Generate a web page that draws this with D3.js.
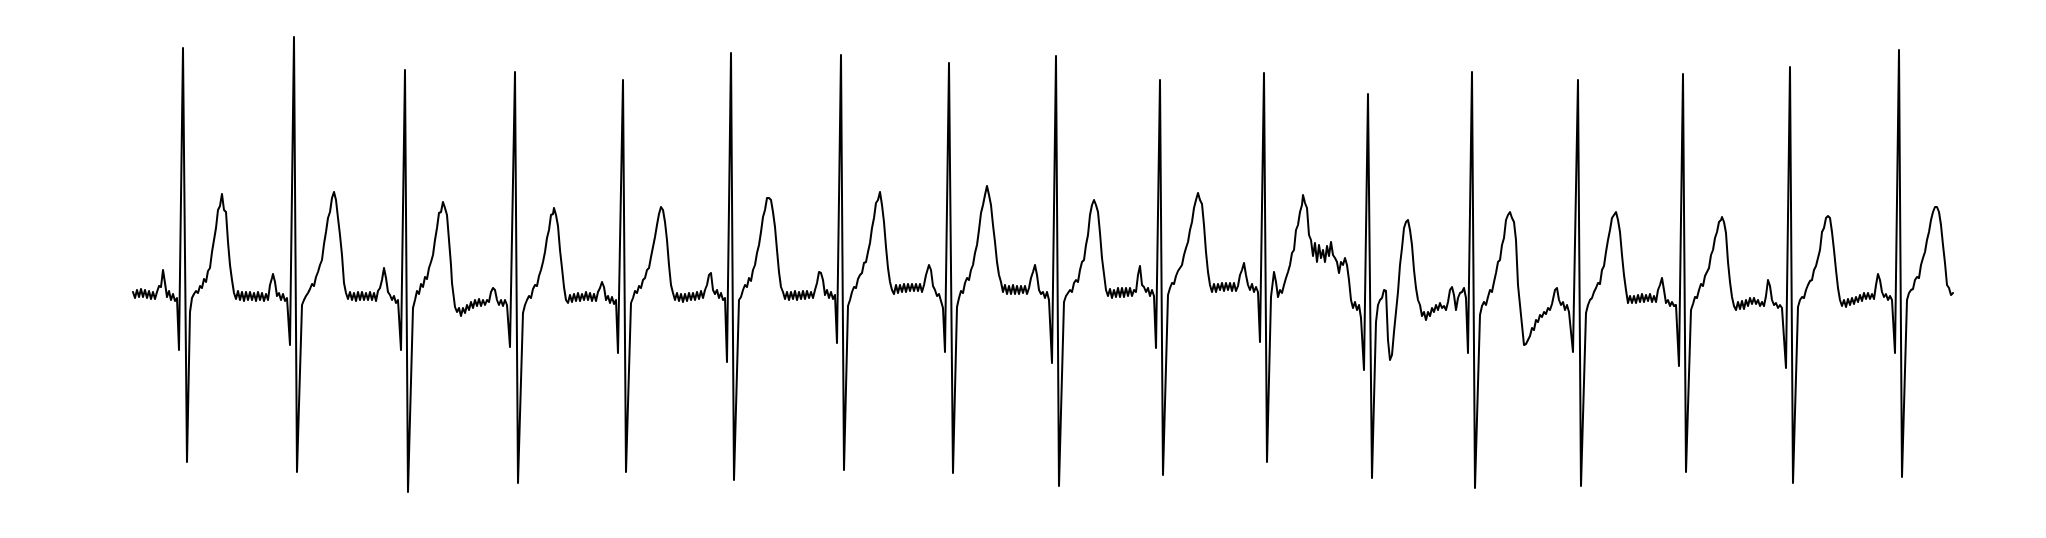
<!DOCTYPE html>
<html>
<head>
<meta charset="utf-8">
<script src="https://cdn.jsdelivr.net/npm/d3@7"></script>
<style>
  html, body { margin: 0; padding: 0; background: #ffffff; }
  svg { display: block; }
</style>
</head>
<body>
<div id="chart"></div>
<script>
// ECG trace: [sample index, amplitude (units of 10 µV)], one array per cardiac cycle
const beat01 = [[0,2],[2,-4],[4,4],[6,-3],[8,5],[10,-3],[12,4],[14,-4],[16,3],[18,-5],[20,2],[22,-5],[24,2],[26,8],[28,7],[30,24],[32,11],[34,-3],[36,3],[38,-6],[40,0],[42,-7],[44,-4],[46,-56],[50,246],[54,-168],[57,-18],[59,-4],[61,0],[63,3],[65,1],[67,8],[69,6],[71,15],[73,12],[75,23],[77,26],[79,42],[81,54],[83,66],[85,84],[87,88],[89,100],[91,84],[93,82],[95,52],[97,29],[99,14],[101,1]];
const beat02 = [[103,-5],[105,3],[107,-6],[109,2],[111,-7],[113,2],[115,-6],[117,2],[119,-6],[121,1],[123,-7],[125,2],[127,-6],[129,1],[131,-7],[133,0],[135,-6],[137,9],[139,16],[140,20],[142,12],[144,-2],[146,1],[148,-6],[150,0],[152,-7],[154,-4],[157,-51],[161,257],[164,-178],[169,-11],[171,-6],[173,-2],[175,1],[177,5],[179,10],[181,8],[183,17],[185,22],[187,29],[189,34],[191,50],[193,62],[195,76],[197,82],[199,96],[201,102],[203,94],[205,76],[207,59],[209,39],[211,11],[213,1]];
const beat03 = [[215,-5],[217,2],[219,-6],[221,1],[223,-7],[225,2],[227,-6],[229,2],[231,-6],[233,1],[235,-6],[237,2],[239,-6],[241,1],[243,-7],[245,3],[247,6],[249,14],[251,26],[253,16],[255,2],[257,-1],[259,-6],[261,-2],[263,-9],[265,-6],[268,-56],[272,224],[275,-198],[280,-14],[282,-6],[284,3],[286,0],[288,10],[290,7],[292,17],[294,15],[296,26],[298,32],[300,39],[302,54],[304,66],[306,81],[308,82],[310,92],[312,86],[314,79],[316,54],[318,29],[319,11]];
const beat04 = [[322,-13],[324,-18],[326,-14],[328,-22],[330,-14],[332,-19],[334,-11],[336,-16],[338,-8],[340,-14],[342,-6],[344,-12],[346,-5],[348,-12],[350,-6],[352,-11],[354,-6],[356,-8],[358,2],[360,6],[362,4],[364,-6],[366,-11],[368,-6],[370,-12],[372,-6],[374,-11],[377,-53],[382,222],[385,-189],[390,-19],[392,-11],[394,-6],[396,-2],[398,-4],[400,5],[402,9],[404,8],[406,18],[408,24],[410,32],[412,42],[414,56],[416,64],[418,79],[420,80],[421,86],[423,79],[425,68],[427,44],[429,26],[431,7],[433,-6],[435,-9]];
const beat05 = [[437,-1],[439,-8],[441,0],[443,-7],[445,1],[447,-7],[449,0],[451,-6],[453,2],[455,-6],[457,1],[459,-7],[461,0],[463,-7],[465,2],[467,6],[469,12],[471,7],[473,-6],[475,-2],[477,-9],[479,-3],[481,-10],[483,-6],[485,-59],[490,214],[493,-178],[498,-9],[500,-4],[502,3],[504,1],[506,8],[508,6],[510,14],[512,16],[514,24],[516,26],[518,37],[520,47],[522,57],[524,69],[526,80],[528,87],[530,84],[532,72],[534,54],[536,29],[538,9],[540,1]];
const beat06 = [[542,-6],[544,1],[546,-7],[548,0],[550,-8],[552,0],[554,-7],[556,1],[558,-6],[560,1],[562,-6],[564,2],[566,-5],[568,3],[570,-4],[572,4],[574,9],[576,19],[578,21],[580,4],[582,0],[584,4],[586,-4],[588,1],[590,-6],[592,-4],[594,-68],[598,241],[601,-186],[606,-6],[608,-3],[610,4],[612,9],[614,7],[616,16],[618,13],[620,24],[622,29],[624,41],[626,49],[628,62],[630,77],[632,84],[634,96],[636,96],[638,94],[640,82],[642,67],[644,44],[646,22],[648,7],[650,2]];
const beat07 = [[652,-5],[654,2],[656,-6],[658,2],[660,-5],[662,3],[664,-6],[666,2],[668,-5],[670,3],[672,-5],[674,3],[676,-4],[678,2],[680,-4],[682,4],[684,11],[686,22],[688,21],[690,14],[692,-1],[694,4],[696,-4],[698,2],[700,-5],[702,-1],[704,-49],[708,239],[711,-176],[715,-12],[717,-6],[719,2],[721,7],[723,6],[725,15],[727,19],[729,21],[731,31],[733,32],[735,42],[737,51],[739,66],[741,76],[743,91],[745,94],[747,102],[749,89],[751,72],[753,47],[755,26],[757,12],[759,4]];
const beat08 = [[761,0],[763,9],[765,1],[767,9],[769,2],[771,10],[773,2],[775,10],[777,3],[779,10],[781,3],[783,10],[785,3],[787,10],[789,2],[791,9],[793,19],[796,29],[798,24],[800,8],[802,4],[804,-2],[806,0],[808,-7],[810,-14],[812,-58],[816,231],[820,-179],[824,-13],[826,-4],[828,3],[830,1],[832,11],[834,16],[836,14],[838,24],[840,29],[842,41],[844,49],[846,64],[848,81],[850,89],[852,99],[854,108],[856,99],[858,89],[860,69],[862,52],[864,32],[866,19],[868,12]];
const beat09 = [[870,2],[872,9],[874,0],[876,8],[878,0],[880,9],[882,0],[884,8],[886,0],[888,8],[890,1],[892,8],[894,0],[896,6],[898,16],[900,22],[902,29],[904,19],[906,4],[908,0],[910,2],[912,-4],[914,2],[916,-6],[919,-69],[923,238],[926,-192],[931,-8],[933,-2],[935,1],[937,4],[939,2],[941,11],[943,14],[945,12],[947,24],[949,32],[951,34],[953,49],[955,59],[957,79],[959,89],[961,94],[963,89],[965,82],[967,61],[969,36],[971,20],[973,4]];
const beat10 = [[975,-2],[977,5],[979,-4],[981,4],[983,-3],[985,6],[987,-3],[989,6],[991,-3],[993,6],[995,-2],[997,6],[999,-2],[1001,4],[1003,2],[1005,19],[1007,28],[1009,9],[1011,7],[1013,2],[1015,6],[1017,-2],[1019,4],[1021,-2],[1023,-54],[1027,214],[1030,-181],[1035,-1],[1037,6],[1039,11],[1041,10],[1043,18],[1045,23],[1047,26],[1049,29],[1051,39],[1053,46],[1055,52],[1057,64],[1059,72],[1061,86],[1063,94],[1065,101],[1067,94],[1069,90],[1071,69],[1073,42],[1075,22],[1077,9]];
const beat11 = [[1079,2],[1081,10],[1083,2],[1085,10],[1087,4],[1089,11],[1091,3],[1093,11],[1095,4],[1097,11],[1099,3],[1101,11],[1103,3],[1105,8],[1107,19],[1109,24],[1111,31],[1113,19],[1115,9],[1117,4],[1119,10],[1121,2],[1123,7],[1125,2],[1127,-48],[1131,221],[1134,-168],[1138,-3],[1141,22],[1143,12],[1145,-3],[1147,4],[1149,1],[1151,9],[1153,16],[1155,22],[1157,29],[1159,41],[1161,44],[1163,64],[1165,69],[1167,82],[1169,89],[1170,99],[1172,91],[1174,86],[1176,59],[1178,54]];
const beat12 = [[1180,38],[1182,51],[1184,32],[1186,49],[1188,36],[1190,44],[1192,32],[1194,48],[1196,38],[1198,52],[1200,39],[1202,36],[1204,32],[1206,21],[1208,32],[1210,29],[1212,36],[1214,29],[1216,14],[1218,-6],[1220,-14],[1222,-8],[1224,-16],[1226,-11],[1228,-24],[1231,-76],[1235,200],[1239,-184],[1243,-28],[1245,-11],[1247,-6],[1249,-4],[1251,4],[1253,3],[1255,-46],[1257,-66],[1259,-61],[1261,-38],[1263,-18],[1265,2],[1267,29],[1269,46],[1271,66],[1273,72],[1275,74],[1277,64],[1279,49],[1281,24],[1283,6],[1285,-6]];
const beat13 = [[1287,-11],[1289,-22],[1291,-18],[1293,-26],[1295,-18],[1297,-22],[1299,-14],[1301,-18],[1303,-11],[1305,-16],[1307,-9],[1309,-14],[1311,-12],[1313,-16],[1315,-8],[1317,4],[1319,7],[1321,-1],[1323,-16],[1325,-4],[1327,1],[1329,2],[1331,6],[1333,-4],[1335,-59],[1339,222],[1342,-194],[1347,-21],[1349,-12],[1351,-8],[1353,-11],[1355,-3],[1357,4],[1359,2],[1361,12],[1363,21],[1365,32],[1367,34],[1369,49],[1371,56],[1373,74],[1375,79],[1377,82],[1379,76],[1381,72],[1383,54],[1385,9]];
const beat14 = [[1387,-11],[1389,-31],[1391,-51],[1393,-50],[1395,-46],[1397,-42],[1399,-34],[1401,-36],[1403,-26],[1405,-28],[1407,-21],[1409,-23],[1411,-18],[1413,-20],[1415,-14],[1417,-16],[1419,-10],[1422,4],[1424,6],[1426,-6],[1428,-11],[1430,-8],[1432,-16],[1434,-11],[1436,-18],[1440,-58],[1445,214],[1448,-192],[1453,-19],[1455,-11],[1457,-6],[1459,-4],[1461,2],[1463,6],[1465,11],[1467,10],[1469,24],[1471,28],[1473,42],[1475,54],[1477,64],[1479,76],[1481,79],[1483,82],[1485,74],[1487,62],[1489,39],[1491,19],[1493,4],[1495,-9]];
const beat15 = [[1497,-2],[1499,-9],[1501,-2],[1503,-9],[1505,-1],[1507,-8],[1509,0],[1511,-8],[1513,-1],[1515,-7],[1517,0],[1519,-8],[1521,-2],[1523,-8],[1525,4],[1527,9],[1529,16],[1531,4],[1533,-9],[1535,-6],[1537,-12],[1539,-8],[1541,-12],[1543,-11],[1546,-72],[1550,220],[1553,-178],[1558,-16],[1560,-10],[1562,-3],[1564,-4],[1566,4],[1568,10],[1570,8],[1572,18],[1574,22],[1576,26],[1578,39],[1580,44],[1582,56],[1584,62],[1586,72],[1588,74],[1589,77],[1591,72],[1593,61],[1595,32],[1597,12],[1599,-3],[1601,-12]];
const beat16 = [[1603,-16],[1605,-8],[1607,-15],[1609,-7],[1611,-15],[1613,-6],[1615,-12],[1617,-4],[1619,-10],[1621,-4],[1623,-10],[1625,-6],[1627,-12],[1629,-8],[1631,-12],[1633,-2],[1635,14],[1637,8],[1639,-6],[1641,-11],[1643,-9],[1645,-14],[1647,-11],[1649,-14],[1653,-74],[1657,227],[1660,-189],[1665,-13],[1667,-6],[1669,-3],[1671,-4],[1673,4],[1675,9],[1677,13],[1679,14],[1681,24],[1683,28],[1685,36],[1687,44],[1689,62],[1691,66],[1693,76],[1695,78],[1697,76],[1699,62],[1701,44],[1703,24],[1705,6],[1707,-6],[1709,-12]];
const beat17 = [[1711,-6],[1713,-13],[1715,-5],[1717,-11],[1719,-4],[1721,-10],[1723,-3],[1725,-8],[1727,-1],[1729,-7],[1731,1],[1733,-5],[1735,1],[1737,-5],[1739,0],[1741,-5],[1743,9],[1745,20],[1747,14],[1749,2],[1751,-3],[1753,0],[1755,-6],[1757,-2],[1759,-6],[1762,-59],[1766,244],[1769,-183],[1774,-6],[1776,1],[1778,4],[1780,5],[1782,14],[1784,17],[1786,16],[1788,29],[1790,36],[1792,42],[1794,54],[1796,62],[1798,74],[1800,82],[1802,87],[1804,87],[1806,82],[1808,69],[1810,49],[1812,31],[1814,9],[1816,6],[1818,-1],[1820,1]];

const beats = [beat01, beat02, beat03, beat04, beat05, beat06, beat07, beat08, beat09,
               beat10, beat11, beat12, beat13, beat14, beat15, beat16, beat17];

const timeDomain = [0, 1820];
const ampDomain = [-200, 250];

const width = 2046, height = 538;
const margin = { top: 44, right: 93, bottom: 44, left: 133 };

const svg = d3.select("#chart").append("svg")
  .attr("width", width)
  .attr("height", height)
  .style("background", "#ffffff");

const x = d3.scaleLinear().domain(timeDomain).range([margin.left, width - margin.right]);
const y = d3.scaleLinear().domain(ampDomain).range([height - margin.bottom, margin.top]);

const series = beats.flat();

const line = d3.line()
  .x(d => x(d[0]))
  .y(d => y(d[1]))
  .curve(d3.curveLinear);

svg.append("path")
  .datum(series)
  .attr("fill", "none")
  .attr("stroke", "#000000")
  .attr("stroke-width", 2)
  .attr("stroke-linejoin", "round")
  .attr("stroke-linecap", "round")
  .attr("d", line);
</script>
</body>
</html>
